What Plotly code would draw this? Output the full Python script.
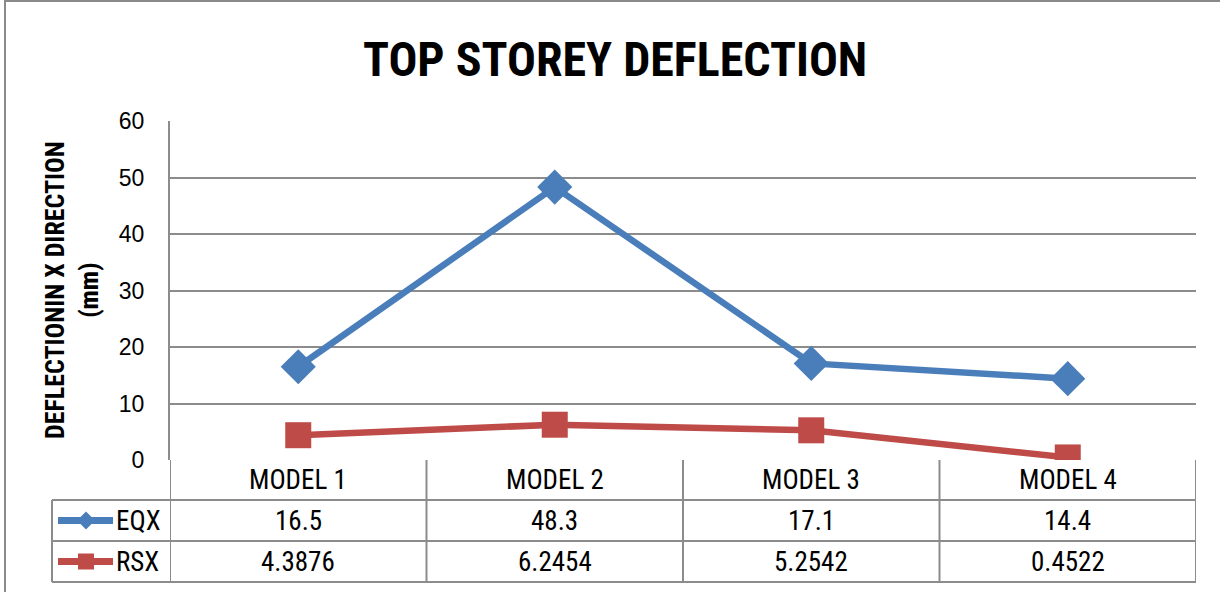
import plotly.graph_objects as go

categories = ["MODEL 1", "MODEL 2", "MODEL 3", "MODEL 4"]
eqx = [16.5, 48.3, 17.1, 14.4]
rsx = [4.3876, 6.2454, 5.2542, 0.4522]
series_names = ["EQX", "RSX"]
title_text = "TOP STOREY DEFLECTION"
y_title = "DEFLECTIONIN X DIRECTION<br>(mm)"
y_ticks = [0, 10, 20, 30, 40, 50, 60]

W, H = 1220, 592
BLUE = "#4A7EBB"
RED = "#BE4B48"
GRID = "#8C8C8C"
NARROW = "Roboto Condensed, Liberation Sans Narrow, Arial Narrow, sans-serif"
REGULAR = "Liberation Sans, Arial, sans-serif"

# pixel helpers (layout positions only)
def px(x):
    return x / W

def py(y):
    return 1 - y / H

PL, PR, PT, PB = 170, 1196, 121, 460
ROWS = [460, 500, 541, 582]
TLEFT = 52

fig = go.Figure()
fig.add_trace(go.Scatter(
    x=categories, y=eqx, mode="lines+markers", name=series_names[0],
    line=dict(color=BLUE, width=6.5),
    marker=dict(symbol="diamond", size=27, color=BLUE),
))
fig.add_trace(go.Scatter(
    x=categories, y=rsx, mode="lines+markers", name=series_names[1],
    line=dict(color=RED, width=6.5),
    marker=dict(symbol="square", size=26, color=RED),
))

shapes = []
# chart border
shapes.append(dict(type="rect", xref="paper", yref="paper",
                   x0=px(5), x1=px(1230), y0=py(600), y1=py(1),
                   line=dict(color="#8A8A8A", width=2), fillcolor="rgba(0,0,0,0)"))
# table horizontal lines
for r in ROWS[1:]:
    shapes.append(dict(type="line", xref="paper", yref="paper",
                       x0=px(TLEFT), x1=px(PR), y0=py(r), y1=py(r),
                       line=dict(color=GRID, width=2)))
# table vertical lines at category boundaries
for i in range(len(categories) + 1):
    shapes.append(dict(type="line", xref="x", yref="paper",
                       x0=i - 0.5, x1=i - 0.5, y0=py(ROWS[0]), y1=py(ROWS[-1]),
                       line=dict(color=GRID, width=2)))
# left column vertical line
shapes.append(dict(type="line", xref="paper", yref="paper",
                   x0=px(TLEFT), x1=px(TLEFT), y0=py(ROWS[1]), y1=py(ROWS[-1]),
                   line=dict(color=GRID, width=2)))

# legend keys
key_colors = [BLUE, RED]
for k in range(2):
    yc = (ROWS[k + 1] + ROWS[k + 2]) / 2
    shapes.append(dict(type="line", xref="paper", yref="paper",
                       x0=px(58), x1=px(113), y0=py(yc), y1=py(yc),
                       line=dict(color=key_colors[k], width=7)))
    cx = 86
    if k == 0:
        s = 9
        path = (f"M {px(cx)},{py(yc - s)} L {px(cx + s)},{py(yc)} "
                f"L {px(cx)},{py(yc + s)} L {px(cx - s)},{py(yc)} Z")
        shapes.append(dict(type="path", xref="paper", yref="paper", path=path,
                           fillcolor=key_colors[k], line=dict(color=key_colors[k], width=0)))
    else:
        s = 8
        shapes.append(dict(type="rect", xref="paper", yref="paper",
                           x0=px(cx - s), x1=px(cx + s), y0=py(yc + s), y1=py(yc - s),
                           fillcolor=key_colors[k], line=dict(color=key_colors[k], width=0)))

annotations = []
annotations.append(dict(text=f"<b>{title_text}</b>", xref="paper", yref="paper",
                        x=px(615), y=py(59), showarrow=False,
                        font=dict(family=NARROW, size=48, color="#000"),
                        xanchor="center", yanchor="middle"))
annotations.append(dict(text=f"<b>{y_title}</b>", xref="paper", yref="paper",
                        x=px(72), y=py(290), showarrow=False, textangle=-90,
                        font=dict(family=NARROW, size=26, color="#000"),
                        xanchor="center", yanchor="middle"))
# category labels in header row
hdr_y = (ROWS[0] + ROWS[1]) / 2
for c in categories:
    annotations.append(dict(text=c, xref="x", yref="paper", x=c, y=py(hdr_y),
                            showarrow=False, font=dict(family=NARROW, size=27, color="#000"),
                            xanchor="center", yanchor="middle"))
# values rows
for k, vals in enumerate([eqx, rsx]):
    yc = (ROWS[k + 1] + ROWS[k + 2]) / 2
    annotations.append(dict(text=series_names[k], xref="paper", yref="paper",
                            x=px(114), y=py(yc), showarrow=False,
                            font=dict(family=NARROW, size=27, color="#000"),
                            xanchor="left", yanchor="middle"))
    for c, v in zip(categories, vals):
        annotations.append(dict(text=f"{v:g}", xref="x", yref="paper", x=c, y=py(yc),
                                showarrow=False, font=dict(family=NARROW, size=27, color="#000"),
                                xanchor="center", yanchor="middle"))

fig.update_layout(
    width=W, height=H,
    margin=dict(l=0, r=0, t=0, b=0, pad=0, autoexpand=False),
    paper_bgcolor="white", plot_bgcolor="white",
    showlegend=False,
    shapes=shapes,
    annotations=annotations,
    xaxis=dict(domain=[px(PL), px(PR)], type="category", range=[-0.5, 3.5],
               showticklabels=False, showgrid=False, zeroline=False, showline=False,
               fixedrange=True, automargin=False),
    yaxis=dict(domain=[py(PB), py(PT)], range=[0, 60], tickvals=y_ticks,
               showgrid=True, gridcolor=GRID, gridwidth=2,
               zeroline=False, showline=True, linecolor=GRID, linewidth=2,
               ticks="", ticklabelstandoff=19, automargin=False,
               tickfont=dict(family=REGULAR, size=23, color="#000"),
               fixedrange=True),
)

fig.write_html(
    "out.html",
    config={"displayModeBar": False},
    post_script="document.body.style.margin='0';document.body.style.padding='0';"
                "document.body.style.overflow='hidden';",
)
